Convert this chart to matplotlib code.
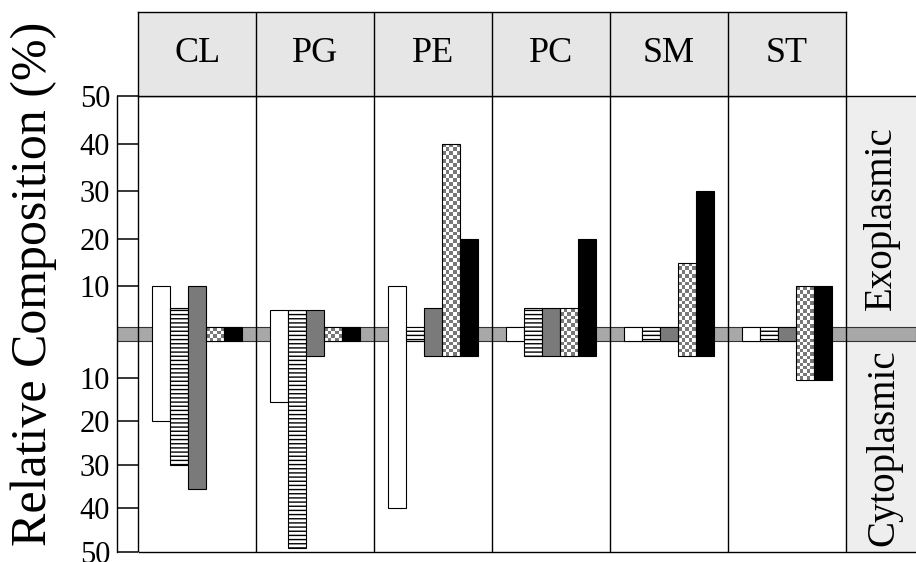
import numpy as np
import matplotlib.pyplot as plt
from matplotlib.colors import ListedColormap

plt.rcParams['font.family'] = ['Liberation Serif', 'DejaVu Serif']

'''Data read off the figure (exoplasmic / cytoplasmic leaflet, %)'''
lipids = ['CL', 'PG', 'PE', 'PC', 'SM', 'ST']
    # 0 means the bar only shows up as a box inside the membrane band
white_exo = [10, 5, 10, 0, 0, 0]
white_cyto = [20, 15.5, 40, 0, 0, 0]
striped_exo = [5.5, 5, 0, 5.5, 0, 0]
striped_cyto = [30, 49, 0, 5, 0, 0]
gray_exo = [10, 5, 5.5, 5.5, 0, 0]
gray_cyto = [35.5, 5, 5, 5, 0, 0]
checker_exo = [0, 0, 40, 5.5, 15, 10]
checker_cyto = [0, 0, 5, 5, 5, 10.5]
black_exo = [0, 0, 20, 20, 30, 10]
black_cyto = [0, 0, 5, 5, 5, 10.5]
tick_values = [10, 20, 30, 40, 50]

    # upper half of the axis is a bit more stretched than the lower half
TOP, BOT = 4.76, 4.36


def fwd(y):
    y = np.asarray(y, dtype=float)
    return np.where(y >= 0, y * TOP, y * BOT)


def inv(u):
    u = np.asarray(u, dtype=float)
    return np.where(u >= 0, u / TOP, u / BOT)


band_lo, band_hi = -1.6, 1.47
bar_w = 0.1526
xmax = 6.5935

fig = plt.figure(figsize=(9.16, 5.62), dpi=100)
ax = fig.add_axes([117 / 916, 1 - 552 / 562, 799 / 916, 456 / 562])
ax.set_yscale('function', functions=(fwd, inv))
ax.set_ylim(-50, 50)
ax.set_xlim(-0.1806, xmax)

'''Background: right label column, membrane band, panel lines'''
ax.axvspan(6, xmax, color='#eeeeee', zorder=0)
ax.axhspan(band_lo, band_hi, facecolor='#a8a8a8', edgecolor='#333333', linewidth=0.8, zorder=1)
ax.vlines(np.arange(7), -50, 50, colors='black', linewidth=1, zorder=2)
ax.hlines([50, -50], 0, xmax, colors='black', linewidth=1, clip_on=False, zorder=2)

'''Bars'''
series = [
    (white_exo, white_cyto, dict(color='white')),
    (striped_exo, striped_cyto, dict(color='white', hatch='----')),
    (gray_exo, gray_cyto, dict(color='#7a7a7a')),
    (checker_exo, checker_cyto, dict(color='none')),
    (black_exo, black_cyto, dict(color='black')),
]
checker_cmap = ListedColormap(['white', '#787878'])
for k, (exo, cyto, style) in enumerate(series):
    x = np.arange(len(lipids)) + 0.5 + (k - 2) * bar_w
    top = np.maximum(exo, band_hi)
    bottom = -np.maximum(cyto, -band_lo)
    ax.bar(x, top - bottom, bar_w, bottom=bottom, edgecolor='black', linewidth=0.8,
           zorder=4, **style)
    if k == 3:
        # checkerboard fill
        for xc, b, t in zip(x, bottom, top):
            ny = max(2, int(round((t - b) / 0.8)))
            xs = np.linspace(xc - bar_w / 2, xc + bar_w / 2, 6)
            ys = np.linspace(b, t, ny + 1)
            cells = np.add.outer(np.arange(ny), np.arange(5)) % 2
            ax.pcolormesh(xs, ys, cells, cmap=checker_cmap, vmin=0, vmax=1, zorder=3)

'''Axis'''
yt = [-v for v in tick_values[::-1]] + tick_values
ax.set_yticks(yt)
ax.set_yticklabels([str(abs(v)) for v in yt])
ax.minorticks_off()
ax.tick_params(axis='y', direction='in', length=15, width=1.1, labelsize=22, pad=5)
ax.tick_params(axis='x', bottom=False, labelbottom=False)
for side in ['top', 'right', 'bottom']:
    ax.spines[side].set_visible(False)
ax.spines['left'].set_linewidth(1)

ax.text(6.30, 24.3, 'Exoplasmic', rotation=90, ha='center', va='center', fontsize=28)
ax.text(6.32, -26, 'Cytoplasmic', rotation=90, ha='center', va='center', fontsize=28)

'''Header row with lipid names'''
hdr = fig.add_axes([138.3 / 916, 1 - 95.7 / 562, 707.7 / 916, 84 / 562])
hdr.set_facecolor('#e6e6e6')
hdr.set_xlim(0, 6)
hdr.set_ylim(0, 1)
hdr.vlines(np.arange(1, 6), 0, 1, colors='black', linewidth=1)
for i, name in enumerate(lipids):
    hdr.text(i + 0.5, 0.5, name, ha='center', va='center', fontsize=26)
hdr.set_xticks([])
hdr.set_yticks([])
for s in hdr.spines.values():
    s.set_linewidth(1)

fig.text(0.037, 0.495, 'Relative Composition (%)', rotation=90, ha='center', va='center',
         fontsize=36)

fig.savefig('out.png', dpi=100)
